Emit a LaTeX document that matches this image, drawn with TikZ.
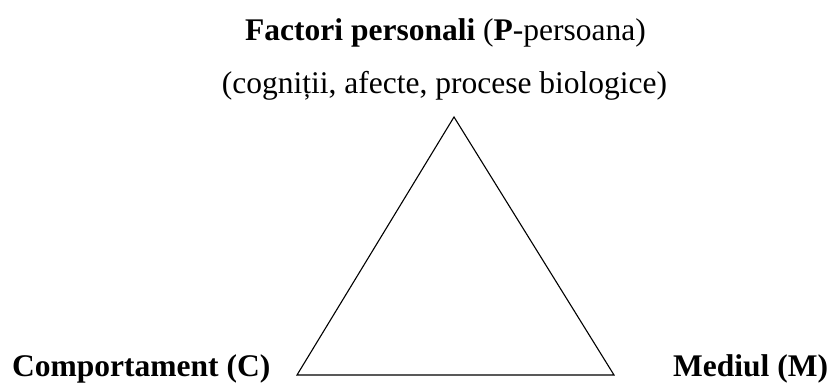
\documentclass[tikz,border=0pt]{standalone}
\usepackage{fontspec}
\setmainfont{Liberation Serif}
\begin{document}
\begin{tikzpicture}[x=1pt,y=1pt,
  lbl/.style={inner sep=0pt, font=\fontsize{31.5}{36}\selectfont},
  edge/.style={draw=black, line width=1.1pt, line join=miter}]
\useasboundingbox (0,0) rectangle (830,385);
\node[lbl, anchor=base] (title) at (445.5,344.5) {\textbf{Factori personali} (\textbf{P}-persoana)};
\node[lbl, anchor=base] (sub) at (444.5,291) {(cogniții, afecte, procese biologice)};
\node[lbl, anchor=base west] (comp) at (12,8) {\textbf{Comportament (C)}};
\node[lbl, anchor=base west] (med) at (673,8) {\textbf{Mediul (M)}};
\coordinate (P) at (454,268);
\coordinate (C) at (297,10);
\coordinate (M) at (614,10);
\draw[edge] (P) -- (C) -- (M) -- cycle;
\end{tikzpicture}
\end{document}
